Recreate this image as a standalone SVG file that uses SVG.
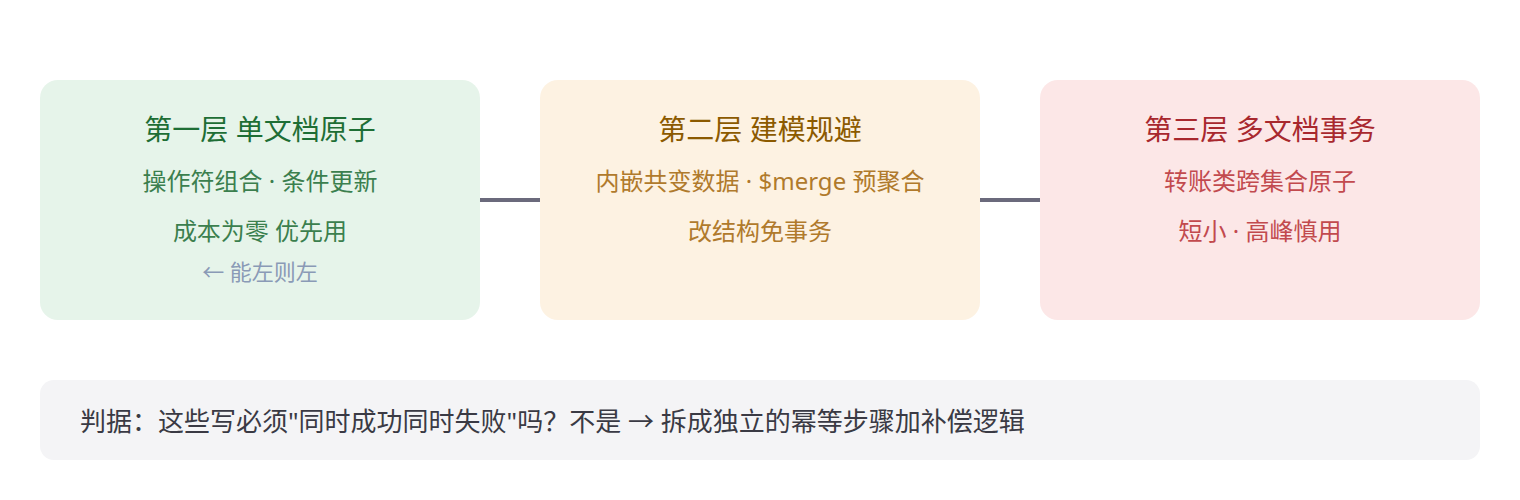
<svg xmlns="http://www.w3.org/2000/svg" width="1520" height="500" viewBox="0 0 1520 500">
<style>
text{font-family:"Noto Sans","Noto Sans CJK SC",sans-serif;text-anchor:middle}
.t{font-size:28px}
.s{font-size:24px}
.g .t{fill:#1e6e35}.g .s{fill:#3b7f4e}
.o .t{fill:#8c5a00}.o .s{fill:#b07a2c}
.r .t{fill:#a8282e}.r .s{fill:#c24a4e}
.hint{font-size:22px;fill:#8a9ab6}
.conn line{stroke:#6b6a7c;stroke-width:4}
</style>
<rect width="1520" height="500" fill="#ffffff"/>
<g class="conn">
<line x1="480" y1="200" x2="540" y2="200"/>
<line x1="980" y1="200" x2="1040" y2="200"/>
</g>
<g id="layer1" class="g">
<rect x="40" y="80" width="440" height="240" rx="18" fill="#e6f4ea"/>
<text class="t" x="260" y="140">第一层 单文档原子</text>
<text class="s" x="260" y="190">操作符组合 · 条件更新</text>
<text class="s" x="260" y="240">成本为零 优先用</text>
<text class="hint" x="260" y="280">← 能左则左</text>
</g>
<g id="layer2" class="o">
<rect x="540" y="80" width="440" height="240" rx="18" fill="#fdf2e2"/>
<text class="t" x="760" y="140">第二层 建模规避</text>
<text class="s" x="760" y="190">内嵌共变数据 · $merge 预聚合</text>
<text class="s" x="760" y="240">改结构免事务</text>
</g>
<g id="layer3" class="r">
<rect x="1040" y="80" width="440" height="240" rx="18" fill="#fce7e7"/>
<text class="t" x="1260" y="140">第三层 多文档事务</text>
<text class="s" x="1260" y="190">转账类跨集合原子</text>
<text class="s" x="1260" y="240">短小 · 高峰慎用</text>
</g>
<g id="criterion">
<rect x="40" y="380" width="1440" height="80" rx="14" fill="#f4f4f6"/>
<text x="80" y="431" style="text-anchor:start;font-size:26px;fill:#3a3a44">判据：这些写必须"同时成功同时失败"吗？不是 → 拆成独立的幂等步骤加补偿逻辑</text>
</g>
</svg>
